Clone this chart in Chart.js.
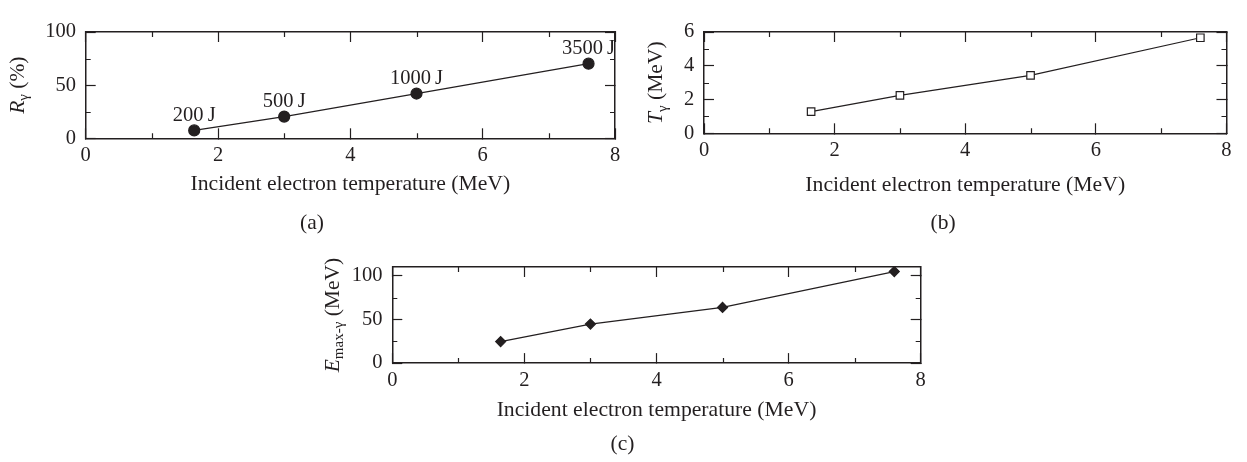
<!DOCTYPE html>
<html>
<head>
<meta charset="utf-8">
<script src="https://cdn.jsdelivr.net/npm/chart.js@4.4.0/dist/chart.umd.min.js"></script>
<style>
  html, body { margin: 0; padding: 0; background: #fff; }
  #wrap { position: relative; width: 1247px; height: 462px; overflow: hidden; }
  canvas { position: absolute; }
</style>
</head>
<body>
<div id="wrap">
  <canvas id="panelA" width="640" height="240" style="left:0;top:0"></canvas>
  <canvas id="panelB" width="607" height="240" style="left:640px;top:0"></canvas>
  <canvas id="panelC" width="660" height="227" style="left:300px;top:235px"></canvas>
</div>
<script>
// electron temperature (MeV) shared by all three panels
const electronTemp = [1.64, 3.0, 5.0, 7.6];
// (a) conversion ratio R_gamma (%)
const conversionRatio = [7.4, 20.4, 42.1, 70.2];
// (b) gamma temperature T_gamma (MeV)
const gammaTemp = [1.28, 2.25, 3.43, 5.66];
// (c) max gamma energy (MeV)
const gammaMaxEnergy = [24.6, 44.7, 63.7, 104.8];
// laser energies annotated on (a)
const laserEnergy = ['200\u2009J', '500\u2009J', '1000\u2009J', '3500\u2009J'];

const xTitle = 'Incident electron temperature (MeV)';
const xMinor = [1, 3, 5, 7];

const SERIF = '"Liberation Serif", "DejaVu Serif", serif';
const INK = '#231f20';

// draws minor ticks, y titles with sub-scripts, point labels and panel tags
const decor = {
  id: 'decor',
  afterDraw(chart, args, o) {
    const { ctx, chartArea: a, scales: { x, y } } = chart;
    ctx.save();
    ctx.strokeStyle = INK;
    ctx.lineWidth = 1.2;
    ctx.beginPath();
    o.xMinor.forEach(v => {
      const px = Math.round(x.getPixelForValue(v)) + 0.5;
      ctx.moveTo(px, a.bottom); ctx.lineTo(px, a.bottom - 5);
      ctx.moveTo(px, a.top); ctx.lineTo(px, a.top + 5);
    });
    o.yMinor.forEach(v => {
      const py = Math.round(y.getPixelForValue(v)) + 0.5;
      ctx.moveTo(a.left, py); ctx.lineTo(a.left + 5, py);
      ctx.moveTo(a.right, py); ctx.lineTo(a.right - 5, py);
    });
    ctx.stroke();

    ctx.fillStyle = INK;
    if (o.pointLabels) {
      ctx.font = '20.5px ' + SERIF;
      ctx.textAlign = 'center';
      ctx.textBaseline = 'middle';
      chart.getDatasetMeta(0).data.forEach((pt, i) => {
        ctx.fillText(o.pointLabels[i], pt.x, pt.y - 15);
      });
    }

    // rotated y title made of parts
    ctx.save();
    ctx.translate(a.left - o.yTitleGap, (a.top + a.bottom) / 2);
    ctx.rotate(-Math.PI / 2);
    ctx.textAlign = 'left';
    ctx.textBaseline = 'middle';
    let total = 0;
    o.yTitle.forEach(p => { ctx.font = p.font; total += ctx.measureText(p.text).width; });
    let cx = -total / 2;
    o.yTitle.forEach(p => {
      ctx.font = p.font;
      ctx.fillText(p.text, cx, p.dy || 0);
      cx += ctx.measureText(p.text).width;
    });
    ctx.restore();

    ctx.font = '21.5px ' + SERIF;
    ctx.textAlign = 'center';
    ctx.textBaseline = 'middle';
    ctx.fillText(o.tag, o.tagX, o.tagY);
    ctx.restore();
  }
};

function makePanel(id, p) {
  const tickFont = { family: SERIF, size: 20.5 };
  const grid = { drawOnChartArea: false, tickLength: -10, tickWidth: 1.2, tickColor: INK };
  const border = { color: INK, width: 1.5 };
  const xRange = { type: 'linear', min: 0, max: 8 };
  const yRange = { type: 'linear', min: 0, max: p.yMax };

  new Chart(document.getElementById(id), {
    type: 'scatter',
    data: {
      datasets: [{
        data: electronTemp.map((t, i) => ({ x: t, y: p.values[i] })),
        showLine: true,
        borderColor: INK,
        borderWidth: 1.2,
        pointStyle: p.pointStyle,
        pointRadius: p.pointRadius,
        pointBackgroundColor: p.pointFill,
        pointBorderColor: INK,
        pointBorderWidth: 1.2
      }]
    },
    options: {
      responsive: false,
      animation: false,
      layout: { padding: { top: p.padTop, right: p.padRight, left: 0, bottom: 0 } },
      scales: {
        x: {
          ...xRange, position: 'bottom', grid, border,
          afterFit: s => { s.height = p.xH; },
          ticks: { stepSize: 2, font: tickFont, color: INK, padding: 15.4, maxRotation: 0, autoSkip: false },
          title: { display: true, text: xTitle, color: INK, font: { family: SERIF, size: 21.7 },
                   padding: { top: 0, bottom: p.xTitlePad } }
        },
        x2: {
          ...xRange, position: 'top', grid, border,
          afterFit: s => { s.height = 0; },
          ticks: { stepSize: 2, display: false }
        },
        y: {
          ...yRange, position: 'left', grid, border,
          afterFit: s => { s.width = p.yW; },
          ticks: { stepSize: p.yStep, includeBounds: false, font: tickFont, color: INK, padding: 19.7 }
        },
        y2: {
          ...yRange, position: 'right', grid, border,
          afterFit: s => { s.width = 0; },
          ticks: { stepSize: p.yStep, includeBounds: false, display: false }
        }
      },
      plugins: {
        legend: { display: false },
        tooltip: { enabled: false },
        decor: {
          xMinor: xMinor,
          yMinor: p.yMinor,
          yTitle: p.yTitle,
          yTitleGap: p.yTitleGap,
          pointLabels: p.pointLabels,
          tag: p.tag, tagX: p.tagX, tagY: p.tagY
        }
      }
    },
    plugins: [decor]
  });
}

const big = '21.5px ' + SERIF;
const bigItalic = 'italic 21.5px ' + SERIF;
const small = '15px ' + SERIF;

makePanel('panelA', {
  values: conversionRatio, yMax: 100, yStep: 50, yMinor: [25, 75],
  pointStyle: 'circle', pointRadius: 5.5, pointFill: INK,
  padTop: 18.3, padRight: 25, yW: 85.7, xH: 101.7, xTitlePad: 42.6,
  yTitleGap: 67.7,
  yTitle: [{ text: 'R', font: bigItalic }, { text: 'γ', font: small, dy: 6 }, { text: ' (%)', font: big }],
  pointLabels: laserEnergy,
  tag: '(a)', tagX: 312, tagY: 223
});

makePanel('panelB', {
  values: gammaTemp, yMax: 6, yStep: 2, yMinor: [1, 3, 5],
  pointStyle: 'rect', pointRadius: 5.3, pointFill: '#fff',
  padTop: 17.3, padRight: 13, yW: 64, xH: 106.7, xTitlePad: 42.1,
  yTitleGap: 47.3,
  yTitle: [{ text: 'T', font: bigItalic }, { text: 'γ', font: small, dy: 6 }, { text: ' (MeV)', font: big }],
  tag: '(b)', tagX: 303, tagY: 223
});

makePanel('panelC', {
  values: gammaMaxEnergy, yMax: 110, yStep: 50, yMinor: [25, 75],
  pointStyle: 'rectRot', pointRadius: 5, pointFill: INK,
  padTop: 12.7, padRight: 39.3, yW: 92.3, xH: 98.9, xTitlePad: 39.1,
  yTitleGap: 59.3,
  yTitle: [{ text: 'E', font: bigItalic }, { text: 'max-γ', font: small, dy: 6 }, { text: ' (MeV)', font: big }],
  tag: '(c)', tagX: 322.5, tagY: 209
});
</script>
</body>
</html>
